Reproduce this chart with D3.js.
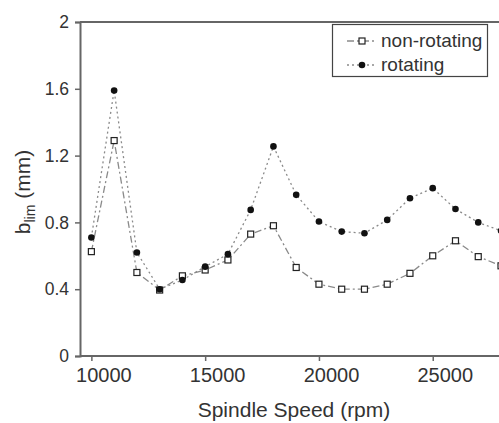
<!DOCTYPE html>
<html>
<head>
<meta charset="utf-8">
<script src="https://cdn.jsdelivr.net/npm/d3@7"></script>
<style>
  body { margin: 0; background: #fff; }
  text { font-family: "Liberation Sans", Arial, sans-serif; fill: #333; }
</style>
</head>
<body>
<script>
"use strict";

const width = 499;
const height = 423;

// spindle speeds (rpm)
const speeds = [10000, 11000, 12000, 13000, 14000, 15000, 16000, 17000, 18000, 19000,
                20000, 21000, 22000, 23000, 24000, 25000, 26000, 27000, 28000];

// b_lim (mm)
const nonRotating = [0.625, 1.29, 0.50, 0.395, 0.48, 0.515, 0.575, 0.73, 0.78, 0.53,
                     0.43, 0.40, 0.40, 0.43, 0.495, 0.60, 0.69, 0.595, 0.54];
const rotating = [0.71, 1.59, 0.62, 0.40, 0.455, 0.535, 0.61, 0.875, 1.255, 0.965,
                  0.805, 0.745, 0.735, 0.815, 0.945, 1.005, 0.88, 0.80, 0.75];

const xTicks = [10000, 15000, 20000, 25000];
const yTicks = [0, 0.4, 0.8, 1.2, 1.6, 2];
const seriesNames = ["non-rotating", "rotating"];

let x = d3.scaleLinear().domain([9500, 28000]).range([80, 501]);
let y = d3.scaleLinear().domain([0, 2]).range([356, 22]);

let svg = d3.select("body").append("svg")
    .attr("width", width)
    .attr("height", height);

const axisColor = "#666";
const lineColor = "#8a8a8a";

// top frame line
svg.append("line")
    .attr("x1", 80).attr("x2", width)
    .attr("y1", y(2)).attr("y2", y(2))
    .style("stroke", axisColor).style("stroke-width", 2);

// y axis
let yAxis = svg.append("g")
    .attr("transform", "translate(80,0)")
    .call(d3.axisLeft(y).tickValues(yTicks).tickSize(5).tickPadding(6)
        .tickFormat(d => d === 0 || d === 2 ? d : d3.format(".1f")(d)));
yAxis.select(".domain").style("stroke", axisColor).style("stroke-width", 2);
yAxis.selectAll(".tick line").style("stroke", axisColor).style("stroke-width", 1.5);
yAxis.selectAll("text").style("font-size", "17.5px").style("fill", "#333")
    .style("font-family", "Liberation Sans, Arial, sans-serif");

// x axis
let xAxis = svg.append("g")
    .attr("transform", "translate(0," + y(0) + ")")
    .call(d3.axisBottom(x).tickValues(xTicks).tickSize(5).tickPadding(7)
        .tickFormat(d3.format("d")));
xAxis.select(".domain").style("stroke", axisColor).style("stroke-width", 2)
    .attr("d", "M80,0H" + width);
xAxis.selectAll(".tick line").style("stroke", axisColor).style("stroke-width", 1.5);
xAxis.selectAll("text").style("font-size", "20px").style("fill", "#333")
    .attr("dx", 12)
    .style("font-family", "Liberation Sans, Arial, sans-serif");

// axis titles
svg.append("text")
    .attr("x", 294).attr("y", 417)
    .attr("text-anchor", "middle")
    .style("font-size", "21px")
    .text("Spindle Speed (rpm)");

let ylab = svg.append("text")
    .attr("transform", "translate(30,192) rotate(-90)")
    .attr("text-anchor", "middle")
    .style("font-size", "21px");
ylab.append("tspan").text("b");
ylab.append("tspan").attr("dy", 5).style("font-size", "14px").text("lim");
ylab.append("tspan").attr("dy", -5).text(" (mm)");

let line = d3.line()
    .x(d => x(d[0]))
    .y(d => y(d[1]));

let nonData = speeds.map((s, i) => [s, nonRotating[i]]);
let rotData = speeds.map((s, i) => [s, rotating[i]]);

svg.append("path")
    .datum(nonData)
    .attr("d", line)
    .style("fill", "none")
    .style("stroke", lineColor)
    .style("stroke-width", 1.3)
    .style("stroke-dasharray", "7,3,2,3");

svg.append("path")
    .datum(rotData)
    .attr("d", line)
    .style("fill", "none")
    .style("stroke", lineColor)
    .style("stroke-width", 1.3)
    .style("stroke-dasharray", "2,3");

svg.selectAll("rect.non")
    .data(nonData)
    .enter()
    .append("rect")
    .attr("class", "non")
    .attr("x", d => x(d[0]) - 3)
    .attr("y", d => y(d[1]) - 3)
    .attr("width", 6).attr("height", 6)
    .style("fill", "#fff")
    .style("stroke", "#222")
    .style("stroke-width", 1.2);

svg.selectAll("circle.rot")
    .data(rotData)
    .enter()
    .append("circle")
    .attr("class", "rot")
    .attr("cx", d => x(d[0]))
    .attr("cy", d => y(d[1]))
    .attr("r", 3.3)
    .style("fill", "#111");

// legend
let legend = svg.append("g");
legend.append("rect")
    .attr("x", 332.5).attr("y", 24.5)
    .attr("width", 155).attr("height", 52)
    .style("fill", "#fff")
    .style("stroke", "#444")
    .style("stroke-width", 1.2);

seriesNames.forEach(function(name, i) {
    let ly = 41 + i * 24;
    legend.append("line")
        .attr("x1", 347).attr("x2", 375)
        .attr("y1", ly).attr("y2", ly)
        .style("stroke", lineColor)
        .style("stroke-width", 1.3)
        .style("stroke-dasharray", i === 0 ? "7,3,2,3" : "2,3");
    if (i === 0) {
        legend.append("rect")
            .attr("x", 359).attr("y", ly - 3)
            .attr("width", 6).attr("height", 6)
            .style("fill", "#fff").style("stroke", "#222").style("stroke-width", 1.2);
    } else {
        legend.append("circle")
            .attr("cx", 362).attr("cy", ly).attr("r", 3.3)
            .style("fill", "#111");
    }
    legend.append("text")
        .attr("x", 381).attr("y", ly + 6)
        .style("font-size", "19px")
        .text(name);
});
</script>
</body>
</html>
